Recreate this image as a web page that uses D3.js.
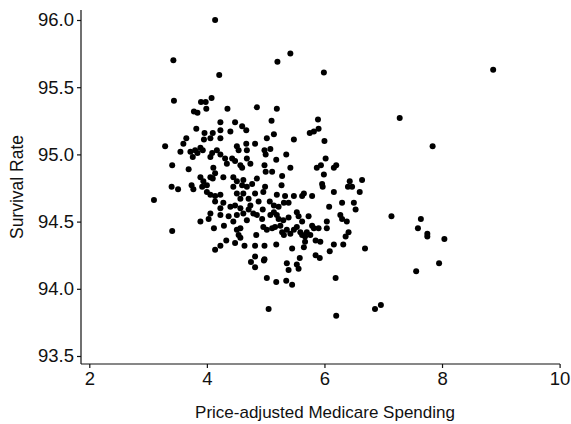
<!DOCTYPE html>
<html>
<head>
<meta charset="utf-8">
<script src="https://cdn.jsdelivr.net/npm/d3@7"></script>
<style>
  body { margin: 0; background: #fff; }
  #scatter text { font-family: "Liberation Sans", Arial, Helvetica, sans-serif; fill: #111; }
</style>
</head>
<body>
<svg id="scatter" width="571" height="424"></svg>
<script>
// price-adjusted medicare spending (x) and survival rate (y), one pair per region
var spending = [
  4.14, 3.43, 4.21, 3.44, 3.90, 3.98, 4.08, 3.78, 3.84, 3.99, 4.35, 4.85, 5.42, 5.20, 5.99, 5.19, 5.10, 5.89,
  8.87, 7.28, 7.84, 7.14, 7.64, 7.59, 7.75, 7.75, 8.04, 7.95, 7.56, 6.96, 6.86, 6.69, 5.05, 6.20, 6.19, 5.02,
  5.18, 5.35, 5.45,
  3.29, 3.41, 3.40, 3.51, 3.10, 3.41, 3.55, 3.60, 3.65, 3.69, 3.82, 3.89,
  3.72, 3.80, 3.89, 3.93, 3.84, 3.76, 3.96, 4.10, 4.23, 4.06, 3.95, 4.23, 4.23, 4.40, 4.48, 4.60, 4.67,
  4.09, 4.17, 4.23, 4.06, 4.51, 4.54, 4.67, 4.68, 4.82, 4.31, 4.43, 4.34, 4.48, 4.57, 4.68, 4.74, 4.60,
  4.11, 4.14, 4.10, 4.28, 4.45, 4.51, 4.62, 4.60, 4.68, 4.77, 4.85, 3.89, 3.94, 4.06, 4.00, 3.92, 3.74, 3.77,
  4.00, 4.06, 4.14, 4.23, 4.14, 4.28, 4.23, 4.45, 4.51, 4.57, 4.62, 4.71, 4.74, 4.82, 4.88,
  4.40, 4.48, 4.57, 4.06, 4.23, 4.03, 4.51, 4.62, 4.71, 4.79, 4.85,
  4.37, 4.45, 4.68, 4.12, 4.29, 4.51, 4.57, 4.54, 4.57, 4.48, 4.84, 4.33, 4.23, 4.14, 4.64, 4.82, 4.82, 4.75, 4.82, 4.97,
  5.75, 5.82, 5.90, 5.02, 5.14, 5.48, 6.00, 4.98, 5.08, 5.00, 5.35, 5.18, 6.02, 4.98, 5.00, 5.11, 5.42, 5.87, 5.94,
  6.16, 6.20, 5.28, 5.99, 5.27, 5.96, 5.97, 6.43, 6.40, 6.47, 6.64, 6.60, 6.16, 4.99, 4.96, 5.19, 5.33, 5.48, 5.62,
  5.65, 5.79, 5.07, 5.14, 5.22, 5.31, 5.39, 6.08, 6.30, 6.50, 6.53, 4.95, 5.14, 5.19, 5.08, 5.53, 5.56, 5.73, 6.27, 6.30,
  4.94, 5.22, 5.30, 5.39, 5.62, 5.79, 5.82, 5.90, 6.04, 6.04, 6.38, 6.41, 6.36,
  4.96, 5.02, 5.11, 5.16, 5.25, 5.28, 5.31, 5.36, 5.42, 5.48, 5.53, 5.59, 5.62, 5.67, 5.70, 5.76, 5.67, 5.65, 5.85, 5.93,
  4.98, 5.18, 5.45, 6.16, 6.09, 6.32, 4.98, 5.36, 5.39, 5.53, 5.58, 5.56, 5.85, 5.92
];
var survival = [
  96.00, 95.70, 95.59, 95.40, 95.39, 95.39, 95.42, 95.32, 95.31, 95.34, 95.34, 95.35, 95.75, 95.69, 95.61, 95.34, 95.25, 95.26,
  95.63, 95.27, 95.06, 94.54, 94.52, 94.45, 94.41, 94.39, 94.37, 94.19, 94.13, 93.88, 93.85, 94.30, 93.85, 93.80, 94.08, 94.08,
  94.05, 94.06, 94.03,
  95.06, 94.92, 94.76, 94.74, 94.66, 94.43, 95.02, 95.08, 95.12, 94.89, 95.19, 94.50,
  95.02, 95.03, 95.05, 95.03, 95.01, 94.98, 95.16, 95.16, 95.12, 95.12, 95.11, 95.24, 95.18, 95.17, 95.24, 95.21, 95.18,
  95.01, 95.03, 95.00, 94.98, 95.06, 95.03, 95.08, 95.03, 95.08, 94.97, 94.97, 94.93, 94.95, 94.92, 94.97, 94.93, 94.90,
  94.90, 94.86, 94.82, 94.83, 94.83, 94.80, 94.81, 94.77, 94.76, 94.78, 94.82, 94.83, 94.80, 94.83, 94.77, 94.76, 94.77, 94.74,
  94.72, 94.70, 94.69, 94.70, 94.65, 94.64, 94.60, 94.76, 94.71, 94.67, 94.71, 94.67, 94.62, 94.71, 94.65,
  94.61, 94.62, 94.60, 94.56, 94.55, 94.52, 94.55, 94.56, 94.59, 94.56, 94.55,
  94.54, 94.50, 94.51, 94.45, 94.47, 94.44, 94.45, 94.40, 94.38, 94.34, 94.40, 94.36, 94.32, 94.29, 94.32, 94.32, 94.24, 94.20, 94.16, 94.21,
  95.16, 95.17, 95.19, 95.12, 95.15, 95.11, 95.10, 95.03, 95.04, 95.00, 95.00, 94.96, 94.97, 94.92, 94.87, 94.87, 94.90, 94.90, 94.92,
  94.90, 94.92, 94.84, 94.85, 94.77, 94.78, 94.76, 94.80, 94.76, 94.76, 94.81, 94.72, 94.72, 94.76, 94.72, 94.70, 94.69, 94.69, 94.69,
  94.71, 94.69, 94.65, 94.62, 94.61, 94.64, 94.64, 94.61, 94.64, 94.64, 94.59, 94.59, 94.57, 94.55, 94.55, 94.57, 94.54, 94.54, 94.55, 94.52,
  94.52, 94.52, 94.51, 94.53, 94.50, 94.47, 94.45, 94.45, 94.50, 94.45, 94.50, 94.42, 94.39,
  94.46, 94.44, 94.45, 94.46, 94.47, 94.42, 94.40, 94.44, 94.41, 94.44, 94.46, 94.42, 94.40, 94.39, 94.42, 94.40, 94.35, 94.31, 94.36, 94.35,
  94.32, 94.33, 94.30, 94.33, 94.28, 94.33, 94.22, 94.19, 94.14, 94.18, 94.23, 94.15, 94.25, 94.23
];
var xTicks = [2, 4, 6, 8, 10];
var yTicks = [93.5, 94.0, 94.5, 95.0, 95.5, 96.0];

var data = spending.map(function(s, i) { return {spending: s, survival: survival[i]}; });

var svg = d3.select("#scatter");
var axisX = 81, axisY = 364;

var x = d3.scaleLinear().domain([2, 10]).range([89.3, 559.6]);
var y = d3.scaleLinear().domain([93.5, 96]).range([356, 20]);

// y axis
var gy = svg.append("g")
    .attr("transform", "translate(" + axisX + ",0)")
    .call(d3.axisLeft(y).tickValues(yTicks).tickFormat(d3.format(".1f")).tickSize(4).tickSizeOuter(0).tickPadding(3));
gy.select(".domain").attr("d", "M0,10V" + axisY);
gy.selectAll("text").style("font-size", "18.5px");

// x axis
var gx = svg.append("g")
    .attr("transform", "translate(0," + axisY + ")")
    .call(d3.axisBottom(x).tickValues(xTicks).tickSize(4).tickSizeOuter(0).tickPadding(4));
gx.select(".domain").attr("d", "M" + axisX + ",0H560");
gx.selectAll("text").style("font-size", "18.5px");

svg.selectAll(".domain, .tick line").attr("stroke", "#111").attr("stroke-width", 1.2);

// axis titles
svg.append("text")
    .attr("transform", "translate(23,187)rotate(-90)")
    .attr("text-anchor", "middle")
    .style("font-size", "17.5px")
    .text("Survival Rate");

svg.append("text")
    .attr("x", 325)
    .attr("y", 418)
    .attr("text-anchor", "middle")
    .style("font-size", "17px")
    .text("Price-adjusted Medicare Spending");

// points
svg.append("g")
  .selectAll("circle")
  .data(data)
  .enter().append("circle")
    .attr("cx", function(d) { return x(d.spending); })
    .attr("cy", function(d) { return y(d.survival); })
    .attr("r", 3)
    .style("fill", "#000");
</script>
</body>
</html>
